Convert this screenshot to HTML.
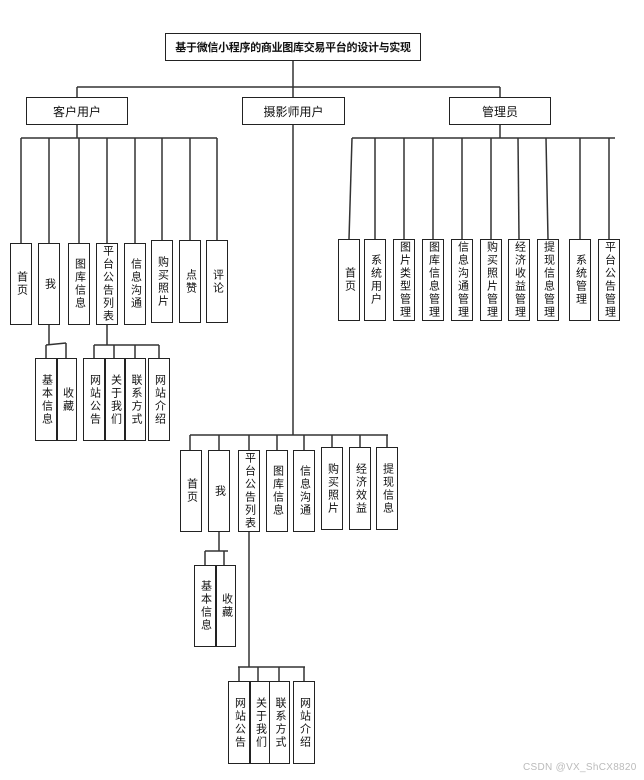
<!DOCTYPE html>
<html><head><meta charset="utf-8">
<style>
html,body{margin:0;padding:0;background:#fff;}
body{width:644px;height:780px;position:relative;overflow:hidden;font-family:"Liberation Sans","Noto Sans CJK SC",sans-serif;}
svg{position:absolute;left:0;top:0;}
.b{position:absolute;box-sizing:border-box;border:1.5px solid #222;background:#fff;display:flex;align-items:center;justify-content:center;font-size:11px;color:#111;}
.v{writing-mode:vertical-rl;text-orientation:upright;letter-spacing:2px;line-height:1;}
.wm{position:absolute;left:523px;top:762px;font-size:10px;color:#bbb;white-space:nowrap;letter-spacing:0.3px;}
</style></head><body>
<svg width="644" height="780" stroke="#333" stroke-width="1.5" fill="none">
<line x1="293" y1="61" x2="293" y2="87"/>
<line x1="77" y1="87" x2="500" y2="87"/>
<line x1="77" y1="87" x2="77" y2="97"/>
<line x1="293" y1="87" x2="293" y2="97"/>
<line x1="500" y1="87" x2="500" y2="97"/>
<line x1="77" y1="125" x2="77" y2="138"/>
<line x1="21" y1="138" x2="217" y2="138"/>
<line x1="21" y1="138" x2="21" y2="243"/>
<line x1="49" y1="138" x2="49" y2="243"/>
<line x1="79" y1="138" x2="79" y2="243"/>
<line x1="107" y1="138" x2="107" y2="243"/>
<line x1="135" y1="138" x2="135" y2="243"/>
<line x1="162" y1="138" x2="162" y2="240"/>
<line x1="190" y1="138" x2="190" y2="240"/>
<line x1="217" y1="138" x2="217" y2="240"/>
<line x1="49" y1="325" x2="49" y2="345"/>
<line x1="46" y1="345" x2="66" y2="343"/>
<line x1="46" y1="345" x2="46" y2="358"/>
<line x1="66" y1="343" x2="66" y2="358"/>
<line x1="107" y1="325" x2="107" y2="345"/>
<line x1="94" y1="345" x2="159" y2="345"/>
<line x1="94" y1="345" x2="94" y2="358"/>
<line x1="114" y1="345" x2="114" y2="358"/>
<line x1="135" y1="345" x2="135" y2="358"/>
<line x1="159" y1="345" x2="159" y2="358"/>
<line x1="500" y1="125" x2="500" y2="138"/>
<line x1="352" y1="138" x2="615" y2="138"/>
<line x1="352" y1="138" x2="349" y2="239"/>
<line x1="375" y1="138" x2="375" y2="239"/>
<line x1="404" y1="138" x2="404" y2="239"/>
<line x1="433" y1="138" x2="433" y2="239"/>
<line x1="462" y1="138" x2="462" y2="239"/>
<line x1="491" y1="138" x2="491" y2="239"/>
<line x1="518" y1="138" x2="519" y2="239"/>
<line x1="546" y1="138" x2="548" y2="239"/>
<line x1="580" y1="138" x2="580" y2="239"/>
<line x1="609" y1="138" x2="609" y2="239"/>
<line x1="293" y1="125" x2="293" y2="435"/>
<line x1="190" y1="435" x2="388" y2="435"/>
<line x1="190" y1="435" x2="190" y2="450"/>
<line x1="219" y1="435" x2="219" y2="450"/>
<line x1="249" y1="435" x2="249" y2="450"/>
<line x1="277" y1="435" x2="277" y2="450"/>
<line x1="304" y1="435" x2="304" y2="450"/>
<line x1="332" y1="435" x2="332" y2="447"/>
<line x1="360" y1="435" x2="360" y2="447"/>
<line x1="387" y1="435" x2="387" y2="447"/>
<line x1="219" y1="532" x2="219" y2="551"/>
<line x1="205" y1="551" x2="228" y2="551"/>
<line x1="205" y1="551" x2="205" y2="565"/>
<line x1="224" y1="551" x2="224" y2="565"/>
<line x1="249" y1="532" x2="249" y2="667"/>
<line x1="238" y1="667" x2="305" y2="667"/>
<line x1="239" y1="667" x2="239" y2="681"/>
<line x1="258" y1="667" x2="258" y2="681"/>
<line x1="279" y1="667" x2="279" y2="681"/>
<line x1="304" y1="667" x2="304" y2="681"/>
</svg>

<div class="b" style="left:165px;top:33px;width:256px;height:28px;font-weight:bold;font-size:11px;white-space:nowrap;letter-spacing:-0.3px;">基于微信小程序的商业图库交易平台的设计与实现</div>
<div class="b" style="left:26px;top:97px;width:102px;height:28px;font-size:12px;">客户用户</div>
<div class="b" style="left:242px;top:97px;width:103px;height:28px;font-size:12px;">摄影师用户</div>
<div class="b" style="left:449px;top:97px;width:102px;height:28px;font-size:12px;">管理员</div>

<div class="b" style="left:10px;top:243px;width:22px;height:82px;"><span class="v">首页</span></div>
<div class="b" style="left:38px;top:243px;width:22px;height:82px;"><span class="v">我</span></div>
<div class="b" style="left:68px;top:243px;width:22px;height:82px;"><span class="v">图库信息</span></div>
<div class="b" style="left:96px;top:243px;width:22px;height:82px;"><span class="v">平台公告列表</span></div>
<div class="b" style="left:124px;top:243px;width:22px;height:82px;"><span class="v">信息沟通</span></div>
<div class="b" style="left:151px;top:240px;width:22px;height:83px;"><span class="v">购买照片</span></div>
<div class="b" style="left:179px;top:240px;width:22px;height:83px;"><span class="v">点赞</span></div>
<div class="b" style="left:206px;top:240px;width:22px;height:83px;"><span class="v">评论</span></div>

<div class="b" style="left:35px;top:358px;width:22px;height:83px;"><span class="v">基本信息</span></div>
<div class="b" style="left:57px;top:358px;width:20px;height:83px;"><span class="v">收藏</span></div>
<div class="b" style="left:83px;top:358px;width:22px;height:83px;"><span class="v">网站公告</span></div>
<div class="b" style="left:105px;top:358px;width:20px;height:83px;"><span class="v">关于我们</span></div>
<div class="b" style="left:125px;top:358px;width:21px;height:83px;"><span class="v">联系方式</span></div>
<div class="b" style="left:148px;top:358px;width:22px;height:83px;"><span class="v">网站介绍</span></div>

<div class="b" style="left:338px;top:239px;width:22px;height:82px;"><span class="v">首页</span></div>
<div class="b" style="left:364px;top:239px;width:22px;height:82px;"><span class="v">系统用户</span></div>
<div class="b" style="left:393px;top:239px;width:22px;height:82px;"><span class="v">图片类型管理</span></div>
<div class="b" style="left:422px;top:239px;width:22px;height:82px;"><span class="v">图库信息管理</span></div>
<div class="b" style="left:451px;top:239px;width:22px;height:82px;"><span class="v">信息沟通管理</span></div>
<div class="b" style="left:480px;top:239px;width:22px;height:82px;"><span class="v">购买照片管理</span></div>
<div class="b" style="left:508px;top:239px;width:22px;height:82px;"><span class="v">经济收益管理</span></div>
<div class="b" style="left:537px;top:239px;width:22px;height:82px;"><span class="v">提现信息管理</span></div>
<div class="b" style="left:569px;top:239px;width:22px;height:82px;"><span class="v">系统管理</span></div>
<div class="b" style="left:598px;top:239px;width:22px;height:82px;"><span class="v">平台公告管理</span></div>

<div class="b" style="left:180px;top:450px;width:22px;height:82px;"><span class="v">首页</span></div>
<div class="b" style="left:208px;top:450px;width:22px;height:82px;"><span class="v">我</span></div>
<div class="b" style="left:238px;top:450px;width:22px;height:82px;"><span class="v">平台公告列表</span></div>
<div class="b" style="left:266px;top:450px;width:22px;height:82px;"><span class="v">图库信息</span></div>
<div class="b" style="left:293px;top:450px;width:22px;height:82px;"><span class="v">信息沟通</span></div>
<div class="b" style="left:321px;top:447px;width:22px;height:83px;"><span class="v">购买照片</span></div>
<div class="b" style="left:349px;top:447px;width:22px;height:83px;"><span class="v">经济效益</span></div>
<div class="b" style="left:376px;top:447px;width:22px;height:83px;"><span class="v">提现信息</span></div>

<div class="b" style="left:194px;top:565px;width:22px;height:82px;"><span class="v">基本信息</span></div>
<div class="b" style="left:216px;top:565px;width:20px;height:82px;"><span class="v">收藏</span></div>

<div class="b" style="left:228px;top:681px;width:22px;height:83px;"><span class="v">网站公告</span></div>
<div class="b" style="left:250px;top:681px;width:20px;height:83px;"><span class="v">关于我们</span></div>
<div class="b" style="left:269px;top:681px;width:21px;height:83px;"><span class="v">联系方式</span></div>
<div class="b" style="left:293px;top:681px;width:22px;height:83px;"><span class="v">网站介绍</span></div>

<div class="wm">CSDN @VX_ShCX8820</div>
</body></html>
